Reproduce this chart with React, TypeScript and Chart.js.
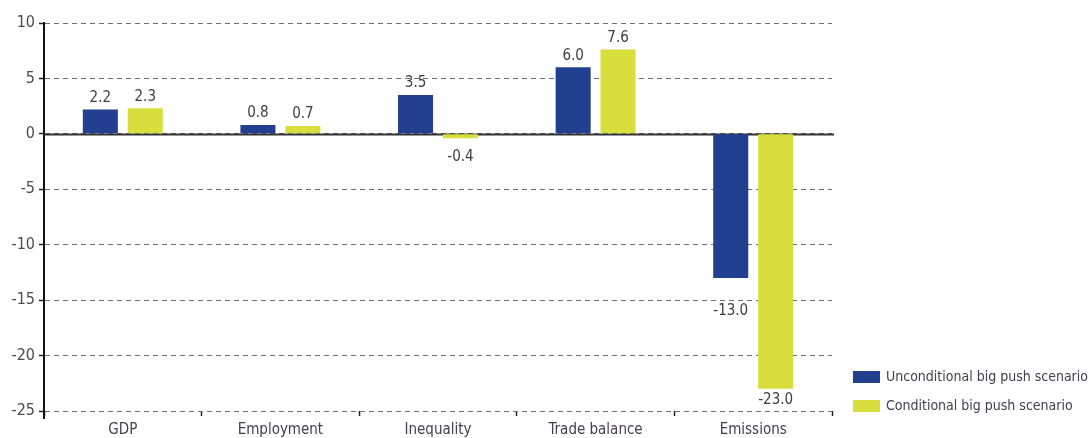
import React, { useEffect, useRef } from 'react';
import { Chart, registerables } from 'chart.js';

Chart.register(...registerables);

const categories = ['GDP', 'Employment', 'Inequality', 'Trade balance', 'Emissions'];
const unconditional = [2.2, 0.8, 3.5, 6.0, -13.0];
const conditional = [2.3, 0.7, -0.4, 7.6, -23.0];
const seriesNames = ['Unconditional big push scenario', 'Conditional big push scenario'];
const seriesColors = ['#233f8f', '#d8de3c'];
const yMin = -25;
const yMax = 10;
const yStep = 5;
// extra label spacing (px) per dataset/category, style only
const labelNudge = [
  [0, 0, 0, 0, 22],
  [0, 0, 7, 0, 0],
];

const FONT = '"Liberation Sans Narrow", "Arial Narrow", "DejaVu Sans Condensed", sans-serif';

const valueLabels = {
  id: 'valueLabels',
  afterDatasetsDraw(chart: any) {
    const ctx = chart.ctx;
    ctx.save();
    ctx.font = `15px ${FONT}`;
    ctx.fillStyle = '#3c3c46';
    ctx.textAlign = 'center';
    chart.data.datasets.forEach((ds: any, di: number) => {
      const meta = chart.getDatasetMeta(di);
      meta.data.forEach((bar: any, i: number) => {
        const v = ds.data[i];
        const nudge = labelNudge[di][i];
        if (v >= 0) {
          ctx.textBaseline = 'bottom';
          ctx.fillText(v.toFixed(1), bar.x, bar.y - 4 - nudge);
        } else {
          ctx.textBaseline = 'top';
          ctx.fillText(v.toFixed(1), bar.x, bar.y + 4 + nudge);
        }
      });
    });
    ctx.restore();
  },
};

const zeroLine = {
  id: 'zeroLine',
  beforeDatasetsDraw(chart: any) {
    const { ctx, chartArea, scales } = chart;
    const y = Math.round(scales.y.getPixelForValue(0)) + 0.5;
    ctx.save();
    ctx.strokeStyle = '#333';
    ctx.lineWidth = 2;
    ctx.setLineDash([]);
    ctx.beginPath();
    ctx.moveTo(chartArea.left, y);
    ctx.lineTo(chartArea.right + 2, y);
    ctx.stroke();
    // y-axis extension below the bottom gridline
    ctx.strokeStyle = '#111';
    ctx.beginPath();
    ctx.moveTo(chartArea.left, chartArea.bottom);
    ctx.lineTo(chartArea.left, chartArea.bottom + 8);
    ctx.stroke();
    ctx.restore();
  },
};

const customLegend = {
  id: 'customLegend',
  afterDraw(chart: any) {
    const ctx = chart.ctx;
    const x0 = 853;
    const rows = [371, 400];
    ctx.save();
    ctx.font = `14px ${FONT}`;
    ctx.textAlign = 'left';
    ctx.textBaseline = 'middle';
    seriesNames.forEach((name, i) => {
      ctx.fillStyle = seriesColors[i];
      ctx.fillRect(x0, rows[i], 27, 12);
      ctx.fillStyle = '#41414f';
      ctx.fillText(name, x0 + 33, rows[i] + 6);
    });
    ctx.restore();
  },
};

export default function App() {
  const ref = useRef<HTMLCanvasElement | null>(null);
  useEffect(() => {
    document.body.style.margin = '0';
    const canvas = ref.current!;
    const chart = new Chart(canvas, {
      type: 'bar',
      data: {
        labels: categories,
        datasets: [
          {
            label: seriesNames[0],
            data: unconditional,
            backgroundColor: seriesColors[0],
            categoryPercentage: 0.57,
            barPercentage: 0.78,
          },
          {
            label: seriesNames[1],
            data: conditional,
            backgroundColor: seriesColors[1],
            categoryPercentage: 0.57,
            barPercentage: 0.78,
          },
        ],
      },
      options: {
        responsive: false,
        animation: false,
        devicePixelRatio: 1,
        layout: { padding: { top: 23, right: 259, left: 0, bottom: 0 } },
        plugins: {
          legend: { display: false },
          tooltip: { enabled: false },
        },
        scales: {
          x: {
            afterFit(scale: any) {
              scale.height = 27;
            },
            grid: {
              display: true,
              drawOnChartArea: false,
              drawTicks: true,
              tickLength: 5,
              tickColor: '#222',
              tickWidth: 1.5,
              offset: true,
            },
            border: { display: false },
            ticks: {
              color: '#45404f',
              font: { family: FONT, size: 15 },
              padding: 5,
              maxRotation: 0,
            },
          },
          y: {
            min: yMin,
            max: yMax,
            afterFit(scale: any) {
              scale.width = 44;
            },
            ticks: {
              stepSize: yStep,
              color: '#4d4a50',
              font: { family: FONT, size: 16 },
              padding: 4,
            },
            grid: {
              color: '#6f6f6f',
              lineWidth: 1,
              tickColor: '#222',
              tickLength: 5,
              tickWidth: 1.5,
            },
            border: { display: true, color: '#111', width: 2, dash: [5, 4] },
          },
        },
      },
      plugins: [zeroLine, valueLabels, customLegend],
    });
    return () => chart.destroy();
  }, []);
  return <canvas ref={ref} width={1091} height={438} style={{ display: 'block' }} />;
}
